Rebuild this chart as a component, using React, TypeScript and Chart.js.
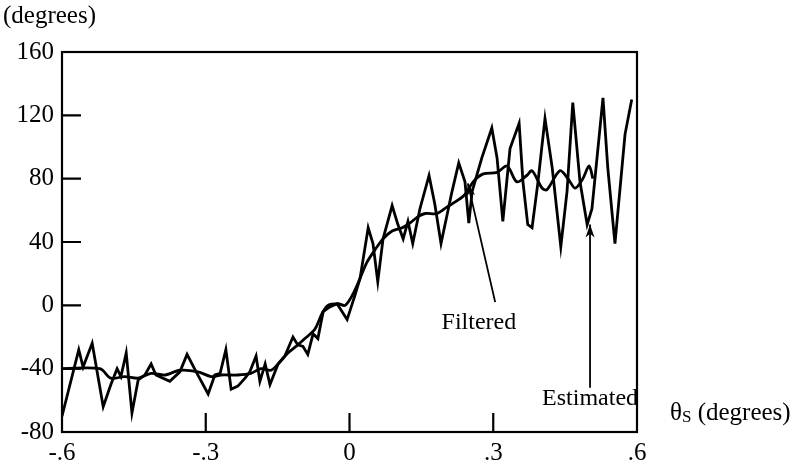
import React, { useEffect, useRef } from "react";
import { Chart, registerables } from "chart.js";

Chart.register(...registerables);

// Estimated (noisy) series
const estX = [
  -0.6, -0.565, -0.556, -0.537, -0.514, -0.498, -0.485, -0.477, -0.466, -0.454,
  -0.441, -0.427, -0.414, -0.404, -0.375, -0.354, -0.339, -0.32, -0.295, -0.281,
  -0.27, -0.258, -0.247, -0.233, -0.218, -0.208, -0.195, -0.187, -0.176, -0.166,
  -0.149, -0.135, -0.118, -0.108, -0.097, -0.087, -0.076, -0.066, -0.055, -0.041,
  -0.026, -0.005, 0.011, 0.022, 0.039, 0.049, 0.059, 0.07, 0.089, 0.101,
  0.112, 0.122, 0.132, 0.147, 0.166, 0.178, 0.191, 0.214, 0.228, 0.241,
  0.249, 0.256, 0.276, 0.297, 0.308, 0.32, 0.335, 0.354, 0.362, 0.372,
  0.381, 0.393, 0.408, 0.423, 0.441, 0.454, 0.466, 0.481, 0.496, 0.506,
  0.529, 0.539, 0.554, 0.575, 0.589,
];
const estY = [
  -70, -28, -39, -24, -64, -50, -40, -45, -30, -68,
  -47, -44, -37, -44, -48, -42, -31, -42, -56, -44,
  -43, -28, -53, -51, -46, -42, -32, -48, -37, -50,
  -37, -32, -20, -25, -26, -31, -18, -21, -4, -1,
  1, -9, 6, 17, 49, 39, 15, 42, 63, 51,
  42, 53, 39, 61, 82, 64, 39, 72, 90, 78,
  52, 72, 93, 112, 93, 53, 99, 115, 78, 51,
  49, 77, 118, 87, 37, 72, 128, 78, 51, 61,
  131, 87, 39, 108, 130,
];

// Filtered (smooth) series
const filtX = [
  -0.6, -0.521, -0.498, -0.469, -0.441, -0.414, -0.385, -0.354, -0.316, -0.289,
  -0.268, -0.233, -0.206, -0.185, -0.164, -0.149, -0.128, -0.108, -0.093, -0.072,
  -0.057, -0.045, -0.024, -0.009, 0.007, 0.022, 0.036, 0.053, 0.07, 0.089,
  0.11, 0.126, 0.143, 0.158, 0.183, 0.203, 0.224, 0.241, 0.258, 0.279,
  0.308, 0.329, 0.349, 0.37, 0.381, 0.402, 0.412, 0.439, 0.456, 0.471,
  0.487, 0.5, 0.508,
];
const filtY = [
  -40, -40, -46, -45, -46, -43, -44, -41, -42, -45,
  -44, -44, -43, -40, -41, -37, -30, -25, -21, -15,
  -5, 0, 1, 0, 7, 17, 27, 35, 42, 47,
  49, 52, 56, 58, 58, 62, 66, 70, 78, 83,
  84, 88, 78, 82, 85, 74, 73, 85, 80, 74,
  80, 88, 80,
];

const xTickValues = [-0.6, -0.3, 0, 0.3, 0.6];
const xTickLabels = ["-.6", "-.3", "0", ".3", ".6"];
const yTickMarks = [120, 80, 40, 0, -40];
const xTickMarks = [-0.3, 0, 0.3];

const yUnitLabel = "(degrees)";
const xAxisSymbol = "θ";
const xAxisSub = "S";
const xAxisUnit = " (degrees)";

// annotations in data units: text centre, arrow tail, arrow tip
const filteredNote = { text: "Filtered", tx: 0.27, ty: -11, x0: 0.304, y0: 2, x1: 0.247, y1: 77 };
const estimatedNote = { text: "Estimated", tx: 0.502, ty: -59, x0: 0.502, y0: -52, x1: 0.502, y1: 51 };

const FONT = "'Liberation Serif', 'Times New Roman', serif";

function arrow(ctx: CanvasRenderingContext2D, x0: number, y0: number, x1: number, y1: number) {
  ctx.beginPath();
  ctx.moveTo(x0, y0);
  ctx.lineTo(x1, y1);
  ctx.stroke();
  const ang = Math.atan2(y1 - y0, x1 - x0);
  const L = 13, W = 4.5;
  ctx.beginPath();
  ctx.moveTo(x1, y1);
  ctx.lineTo(x1 - L * Math.cos(ang) + W * Math.sin(ang), y1 - L * Math.sin(ang) - W * Math.cos(ang));
  ctx.lineTo(x1 - L * Math.cos(ang) * 0.7, y1 - L * Math.sin(ang) * 0.7);
  ctx.lineTo(x1 - L * Math.cos(ang) - W * Math.sin(ang), y1 - L * Math.sin(ang) + W * Math.cos(ang));
  ctx.closePath();
  ctx.fill();
}

const deco = {
  id: "deco",
  afterDraw(chart: any) {
    const { ctx, chartArea: a, scales } = chart;
    const xs = scales.x, ys = scales.y;
    ctx.save();
    ctx.strokeStyle = "#000";
    ctx.fillStyle = "#000";
    ctx.lineWidth = 2.2;
    ctx.strokeRect(a.left, a.top, a.right - a.left, a.bottom - a.top);
    ctx.beginPath();
    for (const v of yTickMarks) {
      const py = ys.getPixelForValue(v);
      ctx.moveTo(a.left, py);
      ctx.lineTo(a.left + 19, py);
    }
    for (const v of xTickMarks) {
      const px = xs.getPixelForValue(v);
      ctx.moveTo(px, a.bottom);
      ctx.lineTo(px, a.bottom - 19);
    }
    ctx.stroke();

    // y unit label
    ctx.font = `25px ${FONT}`;
    ctx.textAlign = "left";
    ctx.textBaseline = "middle";
    ctx.fillText(yUnitLabel, 3, 16);

    // x axis title
    const tx = a.right + 33;
    const ty = a.bottom - 19;
    ctx.font = `25px ${FONT}`;
    ctx.fillText(xAxisSymbol, tx, ty);
    let w = ctx.measureText(xAxisSymbol).width;
    ctx.font = `17px ${FONT}`;
    ctx.fillText(xAxisSub, tx + w, ty + 5);
    w += ctx.measureText(xAxisSub).width;
    ctx.font = `25px ${FONT}`;
    ctx.fillText(xAxisUnit, tx + w, ty);

    // annotations
    ctx.lineWidth = 1.8;
    for (const n of [filteredNote, estimatedNote]) {
      arrow(ctx, xs.getPixelForValue(n.x0), ys.getPixelForValue(n.y0), xs.getPixelForValue(n.x1), ys.getPixelForValue(n.y1));
      ctx.font = `24px ${FONT}`;
      ctx.textAlign = "center";
      ctx.textBaseline = "middle";
      ctx.fillText(n.text, xs.getPixelForValue(n.tx), ys.getPixelForValue(n.ty));
    }
    ctx.restore();
  },
};

export default function App() {
  const ref = useRef<HTMLCanvasElement | null>(null);
  useEffect(() => {
    if (!ref.current) return;
    const chart = new Chart(ref.current, {
      type: "line",
      data: {
        datasets: [
          {
            label: "Estimated",
            data: estX.map((x, i) => ({ x, y: estY[i] })),
            borderColor: "#000",
            borderWidth: 2.8,
            pointRadius: 0,
            tension: 0,
            fill: false,
          },
          {
            label: "Filtered",
            data: filtX.map((x, i) => ({ x, y: filtY[i] })),
            borderColor: "#000",
            borderWidth: 2.8,
            pointRadius: 0,
            tension: 0.3,
            fill: false,
          },
        ],
      },
      options: {
        responsive: false,
        animation: false,
        layout: { padding: { top: 52, right: 169, left: 0, bottom: 0 } },
        plugins: { legend: { display: false }, tooltip: { enabled: false } },
        scales: {
          x: {
            type: "linear",
            min: -0.6,
            max: 0.6,
            grid: { display: false, drawTicks: false },
            border: { display: false },
            afterBuildTicks: (s: any) => {
              s.ticks = xTickValues.map((v) => ({ value: v }));
            },
            afterFit: (s: any) => {
              s.height = 35;
            },
            ticks: {
              padding: 6,
              maxRotation: 0,
              autoSkip: false,
              color: "#000",
              font: { family: FONT, size: 25 },
              callback: (v: any) => xTickLabels[xTickValues.indexOf(Number(v))] ?? "",
            },
          },
          y: {
            type: "linear",
            min: -80,
            max: 160,
            grid: { display: false, drawTicks: false },
            border: { display: false },
            afterFit: (s: any) => {
              s.width = 62;
            },
            ticks: {
              stepSize: 40,
              padding: 8,
              color: "#000",
              font: { family: FONT, size: 25 },
            },
          },
        },
      },
      plugins: [deco],
    });
    return () => chart.destroy();
  }, []);
  return (
    <div style={{ position: "fixed", left: 0, top: 0, width: 806, height: 467, background: "#fff" }}>
      <canvas ref={ref} width={806} height={467} />
    </div>
  );
}
